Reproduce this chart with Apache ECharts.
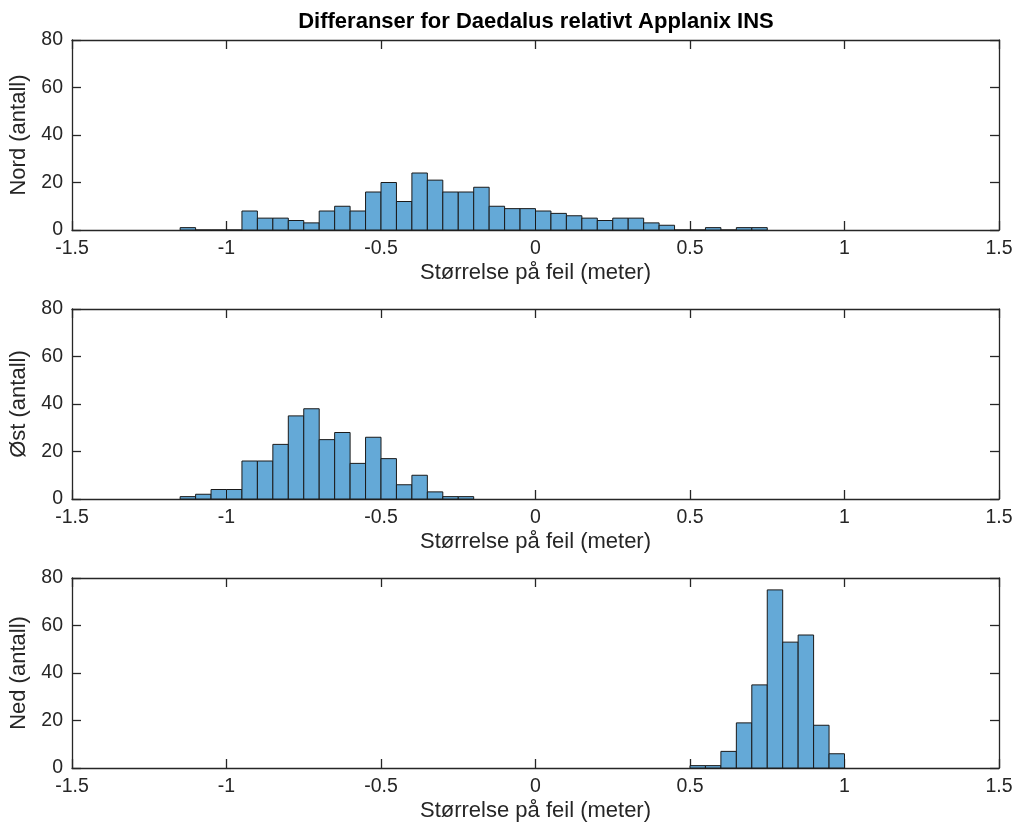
<!DOCTYPE html>
<html>
<head>
<meta charset="utf-8">
<script src="https://cdn.jsdelivr.net/npm/echarts@6/dist/echarts.min.js"></script>
<style>html,body{margin:0;padding:0;background:#fff}#c{width:1018px;height:825px}</style>
</head>
<body>
<div id="c"></div>
<script>
const title = 'Differanser for Daedalus relativt Applanix INS';
const xLabel = 'Størrelse på feil (meter)';
const yLabels = ['Nord (antall)', 'Øst (antall)', 'Ned (antall)'];
const binWidth = 0.05;

const nordEdges = [-1.15,-1.10,-1.05,-1.00,-0.95,-0.90,-0.85,-0.80,-0.75,-0.70,-0.65,-0.60,-0.55,-0.50,-0.45,-0.40,-0.35,-0.30,-0.25,-0.20,-0.15,-0.10,-0.05,0.00,0.05,0.10,0.15,0.20,0.25,0.30,0.35,0.40,0.45,0.50,0.55,0.60,0.65,0.70];
const nordCounts = [1,0,0,0,8,5,5,4,3,8,10,8,16,20,12,24,21,16,16,18,10,9,9,8,7,6,5,4,5,5,3,2,0,0,1,0,1,1];

const ostEdges = [-1.15,-1.10,-1.05,-1.00,-0.95,-0.90,-0.85,-0.80,-0.75,-0.70,-0.65,-0.60,-0.55,-0.50,-0.45,-0.40,-0.35,-0.30,-0.25];
const ostCounts = [1,2,4,4,16,16,23,35,38,25,28,15,26,17,6,10,3,1,1];

const nedEdges = [0.50,0.55,0.60,0.65,0.70,0.75,0.80,0.85,0.90,0.95];
const nedCounts = [1,1,7,19,35,75,53,56,18,6];

const yTicks = {min:0, max:80, interval:20};
const xTicks = {min:-1.5, max:1.5, interval:0.5};

const FONT = 'Liberation Sans';
const INK = '#262626';
const grids = [
  {left:72, right:19, top:40, height:190},
  {left:72, right:19, top:309, height:190},
  {left:72, right:19, top:578, height:190}
];

const sets = [[nordEdges,nordCounts],[ostEdges,ostCounts],[nedEdges,nedCounts]];

const axLine = {show:true, onZero:false, lineStyle:{color:INK, width:1.3}};
const axTick = {show:true, inside:true, length:9, lineStyle:{color:INK, width:1.3}};

const xAxes = [], yAxes = [], series = [];
grids.forEach((g,i)=>{
  xAxes.push({type:'value', gridIndex:i, min:xTicks.min, max:xTicks.max, interval:xTicks.interval,
    axisLine:axLine, axisTick:axTick,
    axisLabel:{color:INK, fontFamily:FONT, fontSize:19.5, margin:9},
    splitLine:{show:false},
    name:xLabel, nameLocation:'middle', nameGap:32,
    nameTextStyle:{color:INK, fontFamily:FONT, fontSize:22}});
  xAxes.push({type:'value', gridIndex:i, position:'top', min:xTicks.min, max:xTicks.max, interval:xTicks.interval,
    axisLine:axLine, axisTick:axTick,
    axisLabel:{show:false}, splitLine:{show:false}});
  yAxes.push({type:'value', gridIndex:i, min:yTicks.min, max:yTicks.max, interval:yTicks.interval,
    axisLine:axLine, axisTick:axTick,
    axisLabel:{color:INK, fontFamily:FONT, fontSize:19.5, margin:9},
    splitLine:{show:false},
    name:yLabels[i], nameLocation:'middle', nameGap:35,
    nameTextStyle:{color:INK, fontFamily:FONT, fontSize:22}});
  yAxes.push({type:'value', gridIndex:i, position:'right', min:yTicks.min, max:yTicks.max, interval:yTicks.interval,
    axisLine:axLine, axisTick:axTick,
    axisLabel:{show:false}, splitLine:{show:false}});
  const [edges, counts] = sets[i];
  series.push({
    type:'custom', xAxisIndex:2*i, yAxisIndex:2*i, silent:true,
    data: edges.map((e,k)=>[e, counts[k]]),
    renderItem:(params, api)=>{
      const x0 = api.value(0), c = api.value(1);
      const p0 = api.coord([x0, c]);
      const p1 = api.coord([x0 + binWidth, 0]);
      return {type:'rect', shape:{x:p0[0], y:p0[1], width:p1[0]-p0[0], height:p1[1]-p0[1]},
        style:{fill:'#64A9D7', stroke:'#1a1a1a', lineWidth:1}};
    }
  });
});

const chart = echarts.init(document.getElementById('c'), null, {renderer:'canvas'});
chart.setOption({
  animation:false,
  backgroundColor:'#fff',
  title:{text:title, left:531, textAlign:'center', top:6,
    textStyle:{fontFamily:FONT, fontSize:22, fontWeight:'bold', color:'#000'}},
  grid:grids, xAxis:xAxes, yAxis:yAxes, series:series
});
</script>
</body>
</html>
